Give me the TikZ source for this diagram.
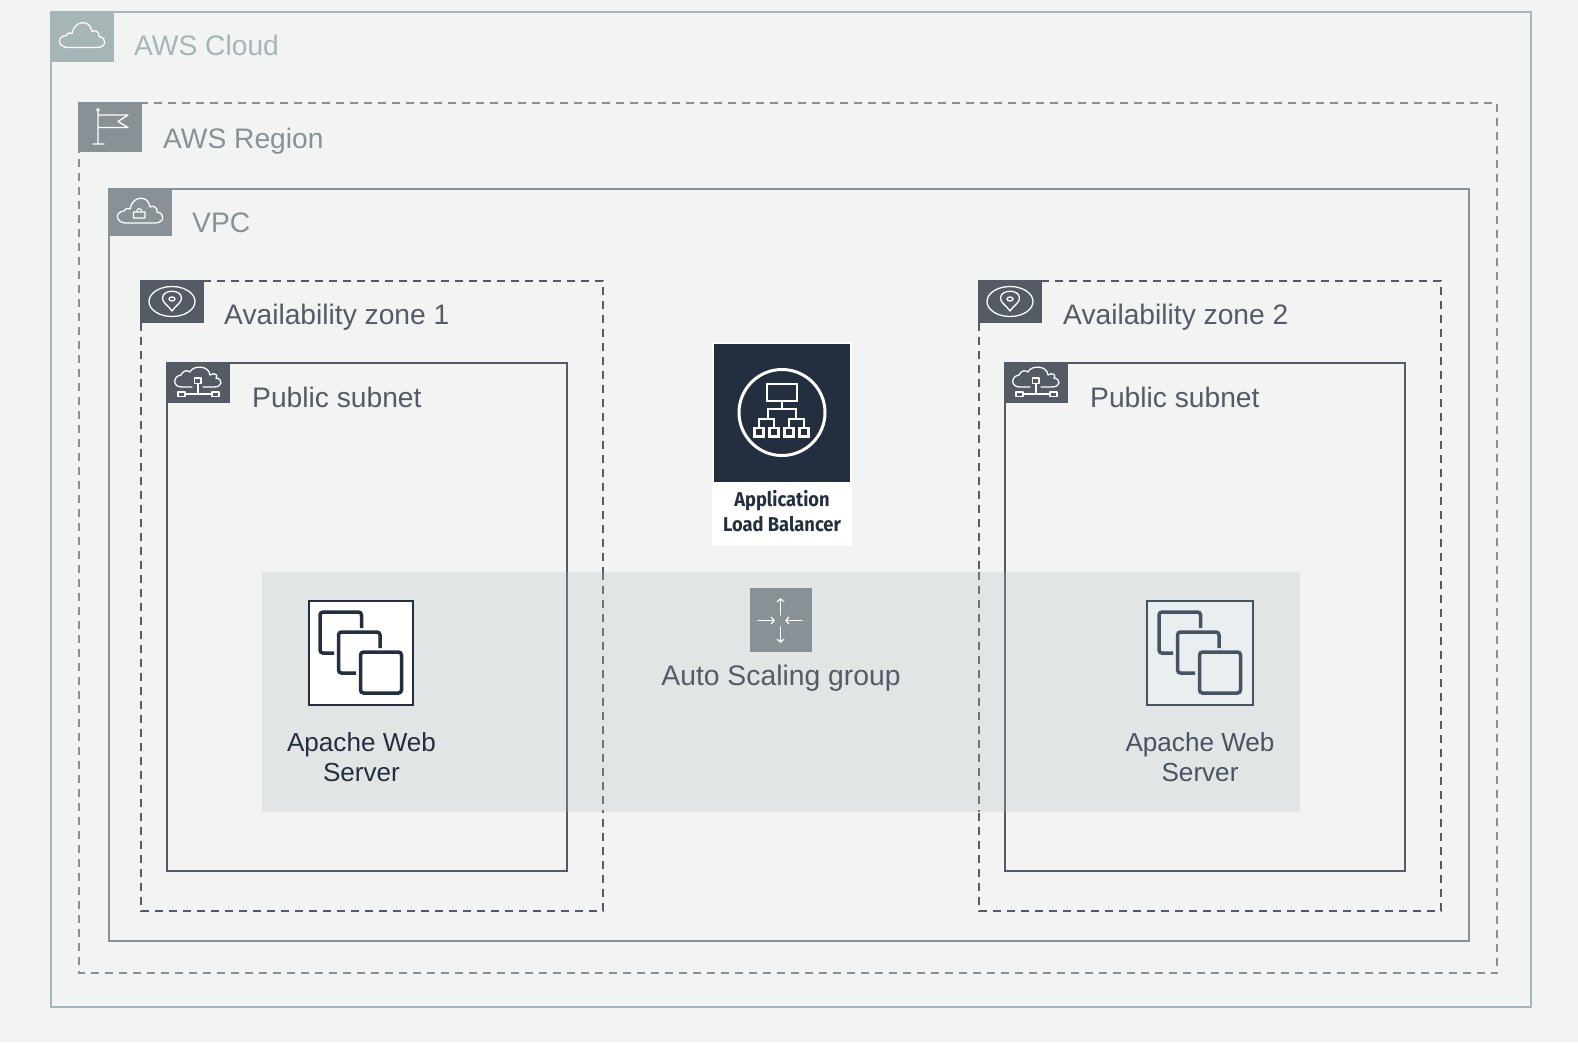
\documentclass[tikz,border=0pt]{standalone}
\usepackage{fontspec}
\setmainfont{Liberation Sans}
\newfontfamily\albl{Fira Sans}
\usetikzlibrary{arrows.meta}
\definecolor{bgc}{HTML}{F2F4F3}
\definecolor{cloudc}{HTML}{A6B5B5}
\definecolor{regc}{HTML}{879196}
\definecolor{darkc}{HTML}{545B64}
\definecolor{navyc}{HTML}{232F3E}
\definecolor{asgc}{HTML}{E2E5E6}
\definecolor{overc}{HTML}{6A727B}
\definecolor{paleS}{HTML}{47535F}
\definecolor{paleF}{HTML}{E9EEF0}
\tikzset{
  x=1pt,y=-1pt,
  grp/.style={draw=#1,line width=2pt,fill=none},
  dgrp/.style={draw=#1,line width=2pt,dash pattern=on 8pt off 6pt},
  tab/.style={fill=#1,draw=none},
  ic/.style={draw=white,line width=1.3pt,fill=none,line join=round,line cap=round},
  lbl/.style={anchor=base west,font=\fontsize{28.2}{34}\selectfont,text=#1,inner sep=0pt},
  srv/.style={draw=#1,line width=3.5pt,rounded corners=3pt},
  wln/.style={draw=white,line width=2.8pt},
  barb/.style={ic,-{Straight Barb[length=3pt,width=7pt]}},
}
\newcommand{\cloudpath}[2]{%
  \draw[ic,shift={(#1)},scale=#2] (-14,11) .. controls (-24,11) and (-26,0) .. (-16,-1)
   .. controls (-14,-4) and (-12,-4) .. (-10,-3)
   .. controls (-8,-16) and (8,-18) .. (10,-5)
   .. controls (12,-7) and (18,-5) .. (17,0)
   .. controls (25,1) and (25,11) .. (15,11) -- cycle;}
\begin{document}
\begin{tikzpicture}
\useasboundingbox (0,0) rectangle (1578,1042);
\fill[bgc] (0,0) rectangle (1578,1042);
% AWS Cloud
\draw[grp=cloudc] (51,11.5) rectangle (1531,1007);
\fill[tab=cloudc] (50,11) rectangle (114,62);
\cloudpath{82,36.5}{1}
\node[lbl=cloudc] (t1) at (134,55) {AWS Cloud};
% Region
\draw[dgrp=regc] (79,102.5) rectangle (1497,973);
\fill[tab=regc] (78,102) rectangle (142,152);
\draw[ic] (98,111.5) -- (98,144) (93,144) -- (104,144) (98,115) -- (128,115) -- (118,121.5) -- (128,127.5) -- (98,127.5);
\draw[ic,line width=1pt] (98,110) circle (1.5);
\node[lbl=regc] (t2) at (163,148) {AWS Region};
% VPC
\draw[grp=regc] (109,189) rectangle (1469,941);
\fill[tab=regc] (108,188) rectangle (172,236);
\cloudpath{140,212}{1}
\draw[ic,line width=1.1pt] (133.5,212) rectangle (145,218) (136.5,212) .. controls (136.5,207.5) and (142,207.5) .. (142,212);
\node[lbl=regc] (t3) at (192,232) {VPC};
% AZ
\draw[dgrp=darkc] (141,281) rectangle (603,911);
\fill[tab=darkc] (140,280) rectangle (204,323);
\draw[dgrp=darkc] (979,281) rectangle (1441,911);
\fill[tab=darkc] (978,280) rectangle (1042,323);
\node[lbl=darkc] (t4) at (224,324) {Availability zone 1};
\node[lbl=darkc] (t5) at (1063,324) {Availability zone 2};
% subnets
\draw[grp=darkc] (167,363) rectangle (567,871);
\fill[tab=darkc] (166,362) rectangle (230,403);
\node[lbl=darkc] (t6) at (252,407) {Public subnet};
\draw[grp=darkc] (1005,363) rectangle (1405,871);
\fill[tab=darkc] (1004,362) rectangle (1068,403);
\node[lbl=darkc] (t7) at (1090,407) {Public subnet};
% icons AZ / subnet
\foreach \dx in {0,838}{
 \begin{scope}[shift={(\dx,0)}]
 \draw[ic] (172,301.5) ellipse (23 and 15);
 \draw[ic] (172,311) .. controls (168,305) and (162.5,303) .. (162.5,298) .. controls (162.5,289) and (181.5,289) .. (181.5,298) .. controls (181.5,303) and (176,305) .. (172,311) -- cycle;
 \draw[ic] (172,299) ellipse (3 and 2);
 \draw[ic] (192,387) -- (182,387) .. controls (172,387) and (173,376) .. (181,375) .. controls (183,370) and (188,370) .. (190,372) .. controls (193,365) and (209,365) .. (210,375) .. controls (214,372) and (219,375) .. (216,378) .. controls (223,379) and (223,387) .. (214,387) -- (203,387);
 \draw[ic] (194.5,378) rectangle (201,383.5) (198,383.5) -- (198,394) (185,394) -- (212,394);
 \draw[ic] (178,392) rectangle (185,396.5) (212,392) rectangle (219,396.5);
 \end{scope}
}
% ASG
\fill[asgc] (262,572) rectangle (1300,812);
\draw[overc,line width=2pt] (567,572) -- (567,812) (1005,572) -- (1005,812);
\draw[dgrp=overc] (603,572) -- (603,812) (979,572) -- (979,812);
\fill[regc] (750,588) rectangle (812,652);
\draw[barb] (780.5,615) -- (780.5,598);
\draw[barb] (780.5,627) -- (780.5,643);
\draw[barb] (758,620.5) -- (775,620.5);
\draw[barb] (802,620.5) -- (785,620.5);
\node[font=\fontsize{28.3}{34}\selectfont,text=darkc,anchor=base,inner sep=0pt] (asg) at (781,685) {Auto Scaling group};
% ALB
\fill[white] (712,342) rectangle (852,546);
\fill[navyc] (714,344) rectangle (850,482);
\draw[white,line width=3pt] (782,412.5) circle (43);
\draw[wln] (767,384) rectangle (797,401);
\draw[wln] (782,401) -- (782,409) (768,419) -- (768,409) -- (796,409) -- (796,419)
  (759,427) -- (759,419) -- (774,419) -- (774,427) (789,427) -- (789,419) -- (804,419) -- (804,427);
\foreach \bx in {759,774,789,804}
  \draw[wln] (\bx-4.5,428) rectangle (\bx+4.5,436.5);
\node[font=\albl\bfseries\fontsize{20}{25}\selectfont,text=navyc,align=center,inner sep=0pt,anchor=center,xscale=.915] (alb) at (782,511.5) {Application\\Load Balancer};
% servers
\draw[navyc,line width=1.8pt,fill=white] (309,601) rectangle (413,705);
\draw[paleS,line width=1.8pt,fill=paleF] (1147,601) rectangle (1253,705);
\foreach \dx/\col in {0/navyc,839/paleS}{
 \begin{scope}[shift={(\dx,0)}]
 \draw[srv=\col] (334,653) -- (320,653) -- (320,612) -- (361.5,612) -- (361.5,628);
 \draw[srv=\col] (356,673) -- (338.5,673) -- (338.5,632) -- (380,632) -- (380,648);
 \draw[srv=\col] (360.5,652) rectangle (401.5,693);
 \end{scope}
}
\node[font=\fontsize{26.1}{30}\selectfont,text=navyc,align=center,inner sep=0pt,anchor=center] (s1) at (361.5,757) {Apache Web\\Server};
\node[font=\fontsize{26.1}{30}\selectfont,text=paleS,align=center,inner sep=0pt,anchor=center] (s2) at (1200,757) {Apache Web\\Server};
\end{tikzpicture}
\end{document}
